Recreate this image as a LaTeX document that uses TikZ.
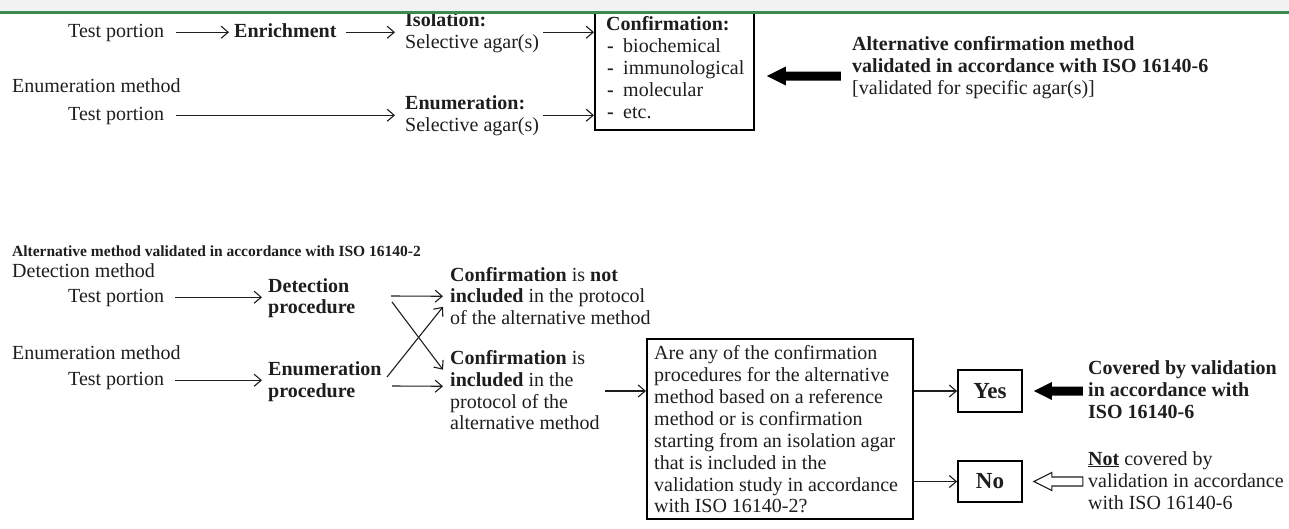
\documentclass[tikz,border=0pt]{standalone}
\usepackage{fontspec}
\setmainfont{Liberation Serif}
\usetikzlibrary{arrows.meta,calc}
\definecolor{ink}{HTML}{1E1E1E}
\definecolor{band}{HTML}{F2F2F2}
\definecolor{rulegreen}{HTML}{3C8A50}
\begin{document}
\begin{tikzpicture}[x=1pt,y=-1pt,
  txt/.style={anchor=base west, inner sep=0pt, text height=14pt, text depth=4.5pt, font=\fontsize{20}{22}\selectfont, text=ink},
  arr/.style={draw=ink, line width=1.1pt, -{Straight Barb[length=7pt,width=12pt]}},
  frame/.style={draw=black, line width=1.8pt, inner sep=0pt, text=ink},
  solidarrow/.style={fill=black},
  hollowarrow/.style={draw=ink, fill=white, line width=1.1pt, line join=miter},
]
\useasboundingbox (0,0) rectangle (1289,528);
\fill[white] (0,0) rectangle (1289,528);

% ---------- top section ----------
\node[txt] (tpA) at (68,37) {Test portion};
\node[txt] (enr) at (234,37) {\textbf{Enrichment}};
\node[txt] (iso) at (405,26) {\textbf{Isolation:}};
\node[txt] (selA) at (405,48) {Selective agar(s)};
\node[txt] (emA) at (12,92) {Enumeration method};
\node[txt] (tpB) at (68,120) {Test portion};
\node[txt] (enu) at (405,109) {\textbf{Enumeration:}};
\node[txt] (selB) at (405,131) {Selective agar(s)};

\node[frame, anchor=south west, minimum width=159pt, minimum height=126pt] (conf) at (594,131) {};
\node[txt] (cf0) at (606,30) {\textbf{Confirmation:}};
\node[txt] (cf1) at (607,52) {\makebox[16pt][l]{\textbf{-}}biochemical};
\node[txt] (cf2) at (607,74) {\makebox[16pt][l]{\textbf{-}}immunological};
\node[txt] (cf3) at (607,96) {\makebox[16pt][l]{\textbf{-}}molecular};
\node[txt] (cf4) at (607,118) {\makebox[16pt][l]{\textbf{-}}etc.};

\draw[arr] ([xshift=12pt]tpA.east) -- ([xshift=-5pt]enr.west);
\draw[arr] ([xshift=9pt]enr.east) -- ($(enr.east -| iso.west)+(-10,0)$);
\draw[arr] ($(conf.west |- tpA.east)+(-51,0)$) -- (conf.west |- tpA.east);
\draw[arr] ([xshift=12pt]tpB.east) -- ($(tpB.east -| enu.west)+(-10,0)$);
\draw[arr] ($(conf.west |- tpB.east)+(-51,0)$) -- (conf.west |- tpB.east);

\node[txt] (alt1) at (852,50) {\textbf{Alternative confirmation method}};
\node[txt] (alt2) at (852,72) {\textbf{validated in accordance with ISO 16140-6}};
\node[txt] (alt3) at (852,94) {[validated for specific agar(s)]};
\coordinate (tipC) at ($(conf.south east)+(12,-55)$);
\fill[solidarrow] (tipC) -- ++(19,-9.5) -- ++(0,5) -- ++(55,0) -- ++(0,9) -- ++(-55,0) -- ++(0,5) -- cycle;

% ---------- bottom section ----------
\node[txt, font=\fontsize{15.5}{18}\selectfont\bfseries] (title) at (12,256) {Alternative method validated in accordance with ISO 16140-2};

\node[txt] (dm) at (12,277) {Detection method};
\node[txt] (tpC) at (68,302) {Test portion};
\node[txt] (det1) at (268,292) {\textbf{Detection}};
\node[txt] (det2) at (268,313) {\textbf{procedure}};
\node[txt] (em2) at (12,359) {Enumeration method};
\node[txt] (tpD) at (68,385) {Test portion};
\node[txt] (enp1) at (268,375) {\textbf{Enumeration}};
\node[txt] (enp2) at (268,397) {\textbf{procedure}};

\node[txt] (cnot1) at (450,281) {\textbf{Confirmation} is \textbf{not}};
\node[txt] (cnot2) at (450,302) {\textbf{included} in the protocol};
\node[txt] (cnot3) at (450,324) {of the alternative method};
\node[txt] (cinc1) at (450,364) {\textbf{Confirmation} is};
\node[txt] (cinc2) at (450,386) {\textbf{included} in the};
\node[txt] (cinc3) at (450,408) {protocol of the};
\node[txt] (cinc4) at (450,429) {alternative method};

\draw[arr] ([xshift=11pt]tpC.east) -- ($(tpC.east -| det1.west)+(-6,0)$);
\draw[arr] ([xshift=11pt]tpD.east) -- ($(tpD.east -| enp1.west)+(-6,0)$);

\coordinate (dOa) at (391,296);
\coordinate (dOb) at (392,302);
\coordinate (eOa) at (387,377);
\coordinate (eOb) at (392,386);
\draw[arr] (dOa) -- ($(cnot2.west)+(-7,-1)$);
\draw[arr] (dOb) -- ($(cinc1.south west)+(-7,1)$);
\draw[arr] (eOa) -- ($(cnot3.north west)+(-7,-3)$);
\draw[arr] (eOb) -- ($(cinc2.west)+(-7,5)$);

\node[frame, anchor=north west, minimum width=266pt, minimum height=180pt] (q) at (646,338) {};
\node[txt] (q1) at (654,359) {Are any of the confirmation};
\node[txt] (q2) at (654,381) {procedures for the alternative};
\node[txt] (q3) at (654,403) {method based on a reference};
\node[txt] (q4) at (654,425) {method or is confirmation};
\node[txt] (q5) at (654,447) {starting from an isolation agar};
\node[txt] (q6) at (654,469) {that is included in the};
\node[txt] (q7) at (654,491) {validation study in accordance};
\node[txt] (q8) at (654,512) {with ISO 16140-2?};
\draw[arr] ($(q.north west)+(-41,53)$) -- ($(q.north west)+(0,53)$);

\node[frame, minimum width=64pt, minimum height=42pt, font=\fontsize{23}{26}\selectfont\bfseries] (yes) at (990,391) {Yes};
\node[frame, minimum width=64pt, minimum height=41pt, font=\fontsize{23}{26}\selectfont\bfseries] (no) at (990,481.5) {No};
\draw[arr] (q.east |- yes.west) -- (yes.west);
\draw[arr] (q.east |- no.west) -- (no.west);

\coordinate (tipY) at ($(yes.east)+(11,0)$);
\fill[solidarrow] (tipY) -- ++(18,-9) -- ++(0,4.5) -- ++(31,0) -- ++(0,9) -- ++(-31,0) -- ++(0,4.5) -- cycle;
\coordinate (tipN) at ($(no.east)+(11,0)$);
\draw[hollowarrow] (tipN) -- ++(18,-9) -- ++(0,4.5) -- ++(31,0) -- ++(0,9) -- ++(-31,0) -- ++(0,4.5) -- cycle;

\node[txt] (cov1) at (1088,374) {\textbf{Covered by validation}};
\node[txt] (cov2) at (1088,396) {\textbf{in accordance with}};
\node[txt] (cov3) at (1088,418) {\textbf{ISO 16140-6}};
\node[txt] (nc1) at (1088,465) {\underline{\textbf{Not}} covered by};
\node[txt] (nc2) at (1088,487) {validation in accordance};
\node[txt] (nc3) at (1088,509) {with ISO 16140-6};

% ---------- header band ----------
\fill[band] (0,0) rectangle (1289,11);
\draw[rulegreen, line width=2.5pt] (0,12.3) -- (1289,12.3);
\end{tikzpicture}
\end{document}
